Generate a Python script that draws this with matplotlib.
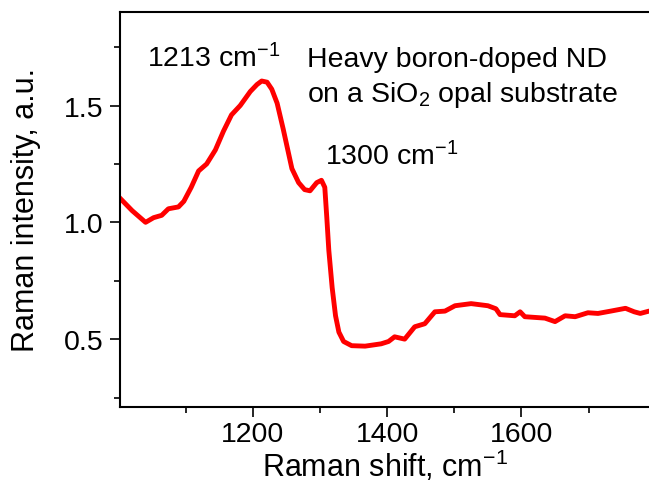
import matplotlib
matplotlib.use("Agg")
import matplotlib.pyplot as plt
from matplotlib.ticker import MultipleLocator

plt.rcParams["font.family"] = ["Liberation Sans", "DejaVu Sans"]
plt.rcParams["mathtext.fontset"] = "custom"
plt.rcParams["mathtext.rm"] = "Liberation Sans"
plt.rcParams["mathtext.it"] = "Liberation Sans:italic"
plt.rcParams["mathtext.default"] = "regular"

# Raman spectrum
shift = [1000, 1020, 1040, 1052, 1064, 1074, 1089, 1097, 1108, 1119, 1131,
         1144, 1156, 1168, 1181, 1196, 1206, 1213, 1221, 1228, 1236, 1245,
         1258, 1268, 1277, 1285, 1295, 1302, 1307, 1310, 1313, 1318, 1323,
         1328, 1335, 1347, 1367, 1391, 1402, 1411, 1426, 1441, 1456, 1471,
         1486, 1501, 1525, 1550, 1562, 1568, 1590, 1598, 1605, 1635, 1650,
         1665, 1680, 1699, 1714, 1733, 1755, 1768, 1777, 1790]
intensity = [1.109, 1.05, 1.00, 1.02, 1.03, 1.058, 1.066, 1.09, 1.15, 1.22, 1.25,
             1.31, 1.39, 1.46, 1.50, 1.56, 1.59, 1.605, 1.60, 1.57, 1.51, 1.40,
             1.23, 1.17, 1.14, 1.135, 1.17, 1.18, 1.15, 1.02, 0.88, 0.72, 0.60,
             0.53, 0.49, 0.472, 0.47, 0.48, 0.49, 0.51, 0.50, 0.553, 0.566, 0.617,
             0.62, 0.643, 0.652, 0.643, 0.63, 0.605, 0.60, 0.617, 0.596, 0.59, 0.575,
             0.60, 0.596, 0.613, 0.61, 0.62, 0.632, 0.617, 0.61, 0.62]

fig = plt.figure(figsize=(6.49, 4.85), dpi=100)
ax = fig.add_axes([0.185, 0.159, 0.815, 0.814])

ax.plot(shift, intensity, color="#ff0000", lw=3.5,
        solid_joinstyle="round", solid_capstyle="round")

ax.set_xlim(1002, 1790)
ax.set_ylim(0.21, 1.90)
ax.xaxis.set_major_locator(MultipleLocator(200))
ax.xaxis.set_minor_locator(MultipleLocator(100))
ax.yaxis.set_major_locator(MultipleLocator(0.5))
ax.yaxis.set_minor_locator(MultipleLocator(0.25))
ax.tick_params(which="major", direction="out", length=7, width=1.2, labelsize=20.5)
ax.tick_params(which="minor", direction="out", length=4, width=1.2)
ax.tick_params(axis="y", pad=5)
ax.spines["right"].set_visible(False)
for s in ["left", "top", "bottom"]:
    ax.spines[s].set_linewidth(1.5)

ax.set_xlabel("Raman shift, cm$^{-1}$", fontsize=22, labelpad=0)
ax.set_ylabel("Raman intensity, a.u.", fontsize=22, labelpad=16)

ax.text(1042, 1.669, "1213 cm$^{-1}$", fontsize=20.5, va="baseline")
ax.text(1280, 1.669, "Heavy boron-doped ND", fontsize=20.5, va="baseline")
ax.text(1280, 1.519, "on a SiO$_2$ opal substrate", fontsize=20.5, va="baseline")
ax.text(1308, 1.25, "1300 cm$^{-1}$", fontsize=20.5, va="baseline")

fig.savefig("out.png", dpi=100)
